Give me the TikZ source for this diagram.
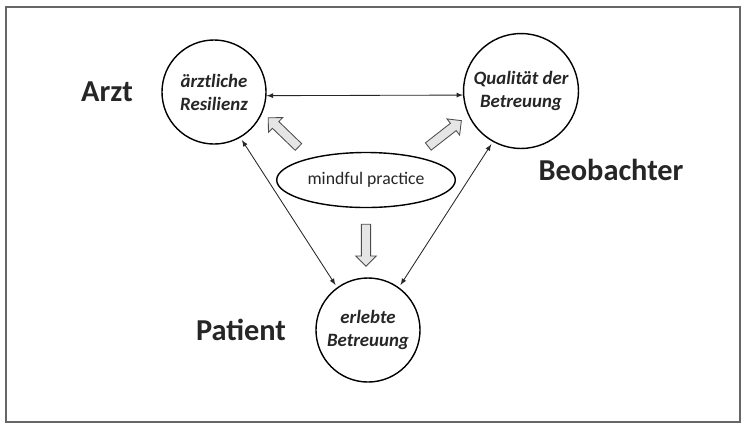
\documentclass[tikz,border=0pt]{standalone}
\usepackage{fontspec}
\setmainfont{Carlito}
\usetikzlibrary{arrows, shapes.geometric, shapes.arrows}

\begin{document}
\begin{tikzpicture}[x=0.025cm, y=-0.025cm,
    kreis/.style={draw, line width=1pt, circle, minimum size=2.6cm, align=center,
        font=\fontsize{13.4}{16.4}\selectfont\bfseries\itshape, text=black!85},
    rolle/.style={font=\fontsize{21.6}{24}\selectfont\bfseries, text=black!85},
    blockpfeil/.style={single arrow, draw=black!70, fill=black!10, line width=0.6pt,
        inner sep=3pt, minimum height=1.05cm, single arrow head extend=4pt,
        single arrow head indent=0pt},
    pfeil/.style={latex-latex, line width=0.6pt, black!85}]
    \useasboundingbox (0,0) rectangle (741,424);
    \fill[white] (0,0) rectangle (741,424);
    \draw[line width=1.2pt, black!60] (6,7) rectangle (740,422);

    \node[kreis] (res) at (214,92) {ärztliche\\Resilienz};
    \node[kreis] (qual) at (521,91) {Qualität der\\Betreuung};
    \node[kreis] (erl) at (368,330) {erlebte\\Betreuung};
    \node[draw, line width=1pt, ellipse, minimum width=3.9cm, minimum height=1.375cm,
        font=\fontsize{12.6}{14}\selectfont, text=black!85] (mp) at (366,180) {mindful practice};

    \node[rolle] (arzt) at (107,92) {Arzt};
    \node[rolle] (beob) at (611,170) {Beobachter};
    \node[rolle] (pat) at (241,330) {Patient};

    \draw[pfeil] (res.-4) -- (qual.184);
    \draw[pfeil, shorten <=2pt, shorten >=2pt] (res.-60) -- (erl.126);
    \draw[pfeil, shorten <=2pt, shorten >=2pt] (qual.-119) -- (erl.54);

    \node[blockpfeil, rotate=136] (p1) at (285,134) {};
    \node[blockpfeil, rotate=38] (p2) at (443,135) {};
    \node[blockpfeil, rotate=-90] (p3) at (366,243) {};
\end{tikzpicture}
\end{document}
